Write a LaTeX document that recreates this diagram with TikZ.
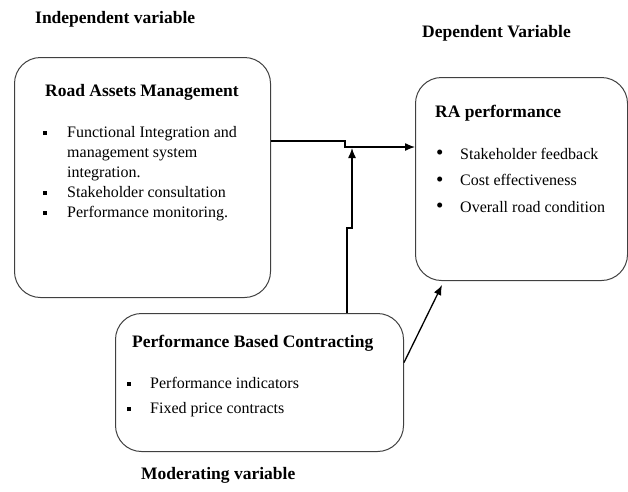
\documentclass[tikz,border=0pt]{standalone}
\usepackage{fontspec}
\setmainfont{Liberation Serif}
\usetikzlibrary{arrows.meta}
\newcommand{\sqbul}{\rule[2pt]{3.5pt}{4.5pt}}
\newcommand{\rdbul}{\smash{\raisebox{-0.5pt}{\fontsize{21}{20}\selectfont\textbullet}}}
\tikzset{
	varbox/.style={draw=black!75, line width=1pt, rounded corners=26pt, anchor=north west, inner sep=0pt},
	boxtitle/.style={anchor=west, inner sep=0pt, font=\fontsize{17.5}{20}\selectfont\bfseries},
	boxlist/.style={anchor=north west, inner sep=0pt, align=left, font=\fontsize{16}{20}\selectfont},
	varlabel/.style={anchor=west, inner sep=0pt, font=\fontsize{17.5}{20}\selectfont\bfseries},
	link/.style={line width=1.3pt, -{Latex[length=10pt, width=8pt]}}
}
\begin{document}
\begin{tikzpicture}[x=1pt, y=-1pt]
	\useasboundingbox (0,0) rectangle (628,491);
	% cajas de las variables
	\node[varbox, minimum width=256pt, minimum height=240pt] (ram) at (14,57) {};
	\node[varbox, minimum width=212pt, minimum height=203pt] (ra) at (415,77) {};
	\node[varbox, minimum width=288pt, minimum height=138pt] (pbc) at (115,313) {};
	% titulos de las variables
	\node[varlabel] (indep) at (35,19) {Independent variable};
	\node[varlabel] (dep) at (422,33) {Dependent Variable};
	\node[varlabel] (moder) at (141,475) {Moderating variable};
	% contenido
	\node[boxtitle] (ramtitle) at (45,92) {Road Assets Management};
	\node[boxlist] (ramlist) at (43,123) {%
		\begin{tabular}{@{}p{24pt}@{}l@{}}
			\sqbul & Functional Integration and\\
			& management system\\
			& integration.\\
			\sqbul & Stakeholder consultation\\
			\sqbul & Performance monitoring.
		\end{tabular}};
	\node[boxtitle] (ratitle) at (435,113) {RA performance};
	\node[boxlist] (ralist) at (436,145) {%
		\begin{tabular}{@{}p{24pt}@{}l@{}}
			\rdbul & Stakeholder feedback\\[6.5pt]
			\rdbul & Cost effectiveness\\[6.5pt]
			\rdbul & Overall road condition
		\end{tabular}};
	\node[boxtitle] (pbctitle) at (132,343) {Performance Based Contracting};
	\node[boxlist] (pbclist) at (127,374) {%
		\begin{tabular}{@{}p{23pt}@{}l@{}}
			\sqbul & Performance indicators\\[5pt]
			\sqbul & Fixed price contracts
		\end{tabular}};
	% conectores
	\coordinate (jog) at (345,141);
	\coordinate (jogb) at (345,147);
	\coordinate (stepa) at (347,228);
	\coordinate (stepb) at (352,228);
	\coordinate (meet) at (352,148);
	\draw[link] (ram.east |- jog) -- (jog) -- (jogb) -- (ra.west |- jogb);
	\draw[link] (pbc.north -| stepa) -- (stepa) -- (stepb) -- (meet);
	\draw[link] ([yshift=20pt]pbc.east) -- ([xshift=27pt, yshift=-4pt]ra.south west);
\end{tikzpicture}
\end{document}
